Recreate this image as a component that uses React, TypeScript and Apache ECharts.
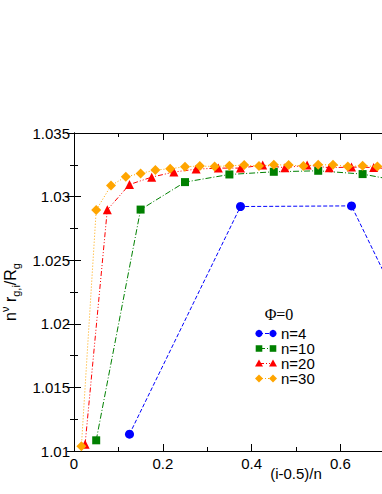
import React, { useEffect, useRef } from "react";
import * as echarts from "echarts";

// x positions (i-0.5)/n and values
const n4X = [0.125, 0.375, 0.625, 0.875];
const n4Y = [1.01132, 1.02922, 1.02927, 1.01135];

const n10X = [0.05, 0.15, 0.25, 0.35, 0.45, 0.55, 0.65, 0.75, 0.85, 0.95];
const n10Y = [1.01084, 1.02898, 1.03114, 1.03174, 1.03195, 1.03203, 1.03177, 1.03112, 1.02895, 1.01082];

const n20X = [0.025, 0.075, 0.125, 0.175, 0.225, 0.275, 0.325, 0.375, 0.425, 0.475,
  0.525, 0.575, 0.625, 0.675, 0.725, 0.775, 0.825, 0.875, 0.925, 0.975];
const n20Y = [1.01053, 1.02896, 1.03095, 1.03153, 1.03193, 1.03216, 1.03224, 1.03224, 1.03248, 1.03227,
  1.03248, 1.03227, 1.03232, 1.03229, 1.03214, 1.03191, 1.03152, 1.03094, 1.02893, 1.01051];

const n30X = [0.01667, 0.05, 0.08333, 0.11667, 0.15, 0.18333, 0.21667, 0.25, 0.28333, 0.31667,
  0.35, 0.38333, 0.41667, 0.45, 0.48333, 0.51667, 0.55, 0.58333, 0.61667, 0.65,
  0.68333, 0.71667, 0.75, 0.78333, 0.81667, 0.85, 0.88333, 0.91667, 0.95, 0.98333];
const n30Y = [1.01037, 1.02894, 1.03087, 1.03156, 1.03182, 1.03209, 1.03219, 1.03235, 1.0324, 1.03237,
  1.03242, 1.03248, 1.0324, 1.0325, 1.03248, 1.0324, 1.0325, 1.0325, 1.03237, 1.03242,
  1.03237, 1.03239, 1.03234, 1.03218, 1.03208, 1.03181, 1.03155, 1.03086, 1.02892, 1.01036];

const seriesNames = ["n=4", "n=10", "n=20", "n=30"];
const legendTitle = "Φ=0";
const xTitle = "(i-0.5)/n";

const xMin = 0, xMax = 1, xStep = 0.2, xMinorStep = 0.1;
const yMin = 1.01, yMax = 1.035, yStep = 0.005, yMinorStep = 0.0025;

const FONT = '"Liberation Sans", Arial, Helvetica, sans-serif';
const SERIF = '"Liberation Serif", "Times New Roman", serif';

const COLORS = ["#0000ff", "#008000", "#ff0000", "#ffa500"];
const SYMBOLS = ["circle", "rect", "triangle", "diamond"];
const SIZES = [9, 8, 9, 10];
const DASHES: number[][] = [[4, 2], [6, 2, 1, 2], [5, 2, 1, 2, 1, 2], [1, 2]];

const fmt = (v: number) => String(parseFloat(v.toFixed(4)));

export default function App() {
  const ref = useRef<HTMLDivElement>(null);

  useEffect(() => {
    if (!ref.current) return;
    const chart = echarts.init(ref.current, null, { renderer: "svg" });

    const xs = [n4X, n10X, n20X, n30X];
    const ys = [n4Y, n10Y, n20Y, n30Y];

    const series = seriesNames.map((name, k) => ({
      type: "line",
      name,
      xAxisIndex: 0,
      yAxisIndex: 0,
      data: xs[k].map((x, i) => [x, ys[k][i]]),
      symbol: SYMBOLS[k],
      symbolSize: SIZES[k],
      showAllSymbol: true,
      itemStyle: { color: COLORS[k] },
      lineStyle: { color: COLORS[k], width: 1, type: DASHES[k] },
      silent: true,
      z: 2 + k,
    }));

    const majorAxis = {
      type: "value",
      axisLine: { show: true, lineStyle: { color: "#000", width: 1 } },
      axisTick: { show: true, inside: true, length: 7, lineStyle: { color: "#000" } },
      splitLine: { show: false },
    };
    const minorAxis = {
      type: "value",
      axisLine: { show: false },
      axisTick: { show: true, inside: true, length: 4, lineStyle: { color: "#000" } },
      axisLabel: { show: false },
      splitLine: { show: false },
    };

    // legend drawn with graphics
    const legendX1 = 259, legendX2 = 273, legendTextX = 281, legendY0 = 333.5, legendDY = 15;
    const markerShape = (k: number, cx: number, cy: number) => {
      const c = COLORS[k];
      if (k === 0) return { type: "circle", shape: { cx, cy, r: 3.6 }, style: { fill: c } };
      if (k === 1) return { type: "rect", shape: { x: cx - 3.3, y: cy - 3.3, width: 6.6, height: 6.6 }, style: { fill: c } };
      if (k === 2)
        return { type: "polygon", shape: { points: [[cx, cy - 4], [cx + 4, cy + 3], [cx - 4, cy + 3]] }, style: { fill: c } };
      return { type: "polygon", shape: { points: [[cx, cy - 4], [cx + 4, cy], [cx, cy + 4], [cx - 4, cy]] }, style: { fill: c } };
    };
    const legendEls: any[] = [
      {
        type: "text",
        x: 279,
        y: 314,
        style: { text: legendTitle, font: `16px ${SERIF}`, fill: "#000", align: "center", verticalAlign: "middle" },
      },
    ];
    seriesNames.forEach((name, k) => {
      const y = legendY0 + legendDY * k;
      legendEls.push({
        type: "line",
        shape: { x1: legendX1, y1: y, x2: legendX2, y2: y },
        style: { stroke: COLORS[k], lineWidth: 1, lineDash: DASHES[k] },
      });
      legendEls.push(markerShape(k, legendX1, y));
      legendEls.push(markerShape(k, legendX2, y));
      legendEls.push({
        type: "text",
        x: legendTextX,
        y,
        style: { text: name, font: `15px ${FONT}`, fill: "#000", align: "left", verticalAlign: "middle" },
      });
    });

    chart.setOption({
      animation: false,
      backgroundColor: "#fff",
      textStyle: { fontFamily: FONT },
      grid: { left: 74, top: 133, width: 444, height: 318, containLabel: false, outerBoundsMode: "none" },
      xAxis: [
        {
          ...majorAxis,
          position: "bottom",
          min: xMin,
          max: xMax,
          interval: xStep,
          axisLabel: { show: true, fontSize: 15, color: "#000", fontFamily: FONT, margin: 5, formatter: fmt },
          name: xTitle,
          nameLocation: "middle",
          nameGap: 15,
          nameMoveOverlap: false,
          nameTextStyle: { fontSize: 15, color: "#000", fontFamily: FONT },
        },
        { ...majorAxis, position: "top", min: xMin, max: xMax, interval: xStep, axisLabel: { show: false } },
        { ...minorAxis, position: "bottom", min: xMin, max: xMax, interval: xMinorStep },
        { ...minorAxis, position: "top", min: xMin, max: xMax, interval: xMinorStep },
      ],
      yAxis: [
        {
          ...majorAxis,
          position: "left",
          min: yMin,
          max: yMax,
          interval: yStep,
          axisLabel: { show: true, fontSize: 15, color: "#000", fontFamily: FONT, margin: 4, formatter: fmt },
          name: "{m|n}{sup|ν}{m| r}{sub|g,i}{m|/R}{sub|g}",
          nameLocation: "middle",
          nameRotate: 90,
          nameGap: 44,
          nameTextStyle: {
            color: "#000",
            fontFamily: FONT,
            rich: {
              m: { fontSize: 16, lineHeight: 22, verticalAlign: "middle", fontFamily: FONT, color: "#000" },
              sup: { fontSize: 11, lineHeight: 11, verticalAlign: "top", fontFamily: FONT, color: "#000" },
              sub: { fontSize: 11, lineHeight: 11, verticalAlign: "bottom", fontFamily: FONT, color: "#000" },
            },
          },
        },
        { ...majorAxis, position: "right", min: yMin, max: yMax, interval: yStep, axisLabel: { show: false } },
        { ...minorAxis, position: "left", min: yMin, max: yMax, interval: yMinorStep },
        { ...minorAxis, position: "right", min: yMin, max: yMax, interval: yMinorStep },
      ],
      series,
      graphic: legendEls,
    });

    return () => chart.dispose();
  }, []);

  return (
    <div
      style={{
        position: "fixed",
        left: 0,
        top: 0,
        width: 382,
        height: 494,
        overflow: "hidden",
        background: "#fff",
      }}
    >
      <div ref={ref} style={{ width: 560, height: 494 }} />
    </div>
  );
}
